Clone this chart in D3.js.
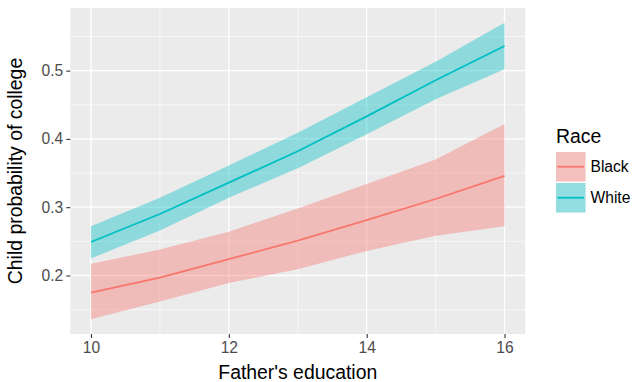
<!DOCTYPE html>
<html>
<head>
<meta charset="utf-8">
<script src="https://cdn.jsdelivr.net/npm/d3@7"></script>
<style>
  html, body { margin: 0; padding: 0; background: #ffffff; }
  svg { display: block; font-family: "Liberation Sans", Arial, Helvetica, sans-serif; }
</style>
</head>
<body>
<svg id="chart" width="634" height="382"></svg>
<script>
// Father's years of education
const fatherEducation = [10, 11, 12, 13, 14, 15, 16];

// Predicted probability of college and its confidence band, by race
const blackFit   = [0.175, 0.197, 0.224, 0.251, 0.281, 0.312, 0.346];
const blackLower = [0.136, 0.162, 0.189, 0.209, 0.236, 0.258, 0.272];
const blackUpper = [0.217, 0.238, 0.264, 0.298, 0.334, 0.370, 0.422];

const whiteFit   = [0.249, 0.290, 0.336, 0.382, 0.433, 0.486, 0.536];
const whiteLower = [0.225, 0.266, 0.314, 0.357, 0.407, 0.458, 0.502];
const whiteUpper = [0.272, 0.314, 0.361, 0.409, 0.461, 0.513, 0.570];

const raceNames  = ["Black", "White"];
const raceColors = ["#F8766D", "#00BFC4"];

const xTicks = [10, 12, 14, 16];
const xMinor = [11, 13, 15];
const yTicks = [0.2, 0.3, 0.4, 0.5];
const yMinor = [0.15, 0.25, 0.35, 0.45, 0.55];

const series = [
  { name: raceNames[0], color: raceColors[0], fit: blackFit, lower: blackLower, upper: blackUpper },
  { name: raceNames[1], color: raceColors[1], fit: whiteFit, lower: whiteLower, upper: whiteUpper }
];

const svg = d3.select("#chart");
const panel = { left: 70.3, right: 525.2, top: 8, bottom: 334 };

// ggplot-style 5% expansion around the data range
const allVals = blackLower.concat(blackUpper, whiteLower, whiteUpper);
const yMin = d3.min(allVals), yMax = d3.max(allVals);
const yPad = (yMax - yMin) * 0.05;
const xPad = (d3.max(fatherEducation) - d3.min(fatherEducation)) * 0.05;

const x = d3.scaleLinear()
  .domain([d3.min(fatherEducation) - xPad, d3.max(fatherEducation) + xPad])
  .range([panel.left, panel.right]);
const y = d3.scaleLinear()
  .domain([yMin - yPad, yMax + yPad])
  .range([panel.bottom, panel.top]);

// panel background
svg.append("rect")
  .attr("x", panel.left).attr("y", panel.top)
  .attr("width", panel.right - panel.left)
  .attr("height", panel.bottom - panel.top)
  .attr("fill", "#EBEBEB");

// grid lines
const grid = svg.append("g");
grid.selectAll(".ymin").data(yMinor).join("line")
  .attr("x1", panel.left).attr("x2", panel.right)
  .attr("y1", d => y(d)).attr("y2", d => y(d))
  .attr("stroke", "#ffffff").attr("stroke-width", 0.6);
grid.selectAll(".xmin").data(xMinor).join("line")
  .attr("y1", panel.top).attr("y2", panel.bottom)
  .attr("x1", d => x(d)).attr("x2", d => x(d))
  .attr("stroke", "#ffffff").attr("stroke-width", 0.6);
grid.selectAll(".ymaj").data(yTicks).join("line")
  .attr("x1", panel.left).attr("x2", panel.right)
  .attr("y1", d => y(d)).attr("y2", d => y(d))
  .attr("stroke", "#ffffff").attr("stroke-width", 1.3);
grid.selectAll(".xmaj").data(xTicks).join("line")
  .attr("y1", panel.top).attr("y2", panel.bottom)
  .attr("x1", d => x(d)).attr("x2", d => x(d))
  .attr("stroke", "#ffffff").attr("stroke-width", 1.3);

// ribbons and fitted lines
const area = d3.area()
  .x((d, i) => x(fatherEducation[i]))
  .y0(d => y(d[0]))
  .y1(d => y(d[1]));
const line = d3.line()
  .x((d, i) => x(fatherEducation[i]))
  .y(d => y(d));

series.forEach(s => {
  const band = s.lower.map((lo, i) => [lo, s.upper[i]]);
  svg.append("path")
    .attr("d", area(band))
    .attr("fill", s.color).attr("fill-opacity", 0.4);
});
series.forEach(s => {
  svg.append("path")
    .attr("d", line(s.fit))
    .attr("fill", "none")
    .attr("stroke", s.color).attr("stroke-width", 1.8);
});

// axes
const xAxis = svg.append("g")
  .attr("transform", `translate(0,${panel.bottom})`)
  .call(d3.axisBottom(x).tickValues(xTicks).tickSize(4).tickPadding(4).tickFormat(d3.format("d")));
const yAxis = svg.append("g")
  .attr("transform", `translate(${panel.left},0)`)
  .call(d3.axisLeft(y).tickValues(yTicks).tickSize(4).tickPadding(3).tickFormat(d3.format(".1f")));
[xAxis, yAxis].forEach(a => {
  a.select(".domain").remove();
  a.selectAll(".tick line").attr("stroke", "#333333").attr("stroke-width", 1.1);
  a.selectAll(".tick text")
    .attr("fill", "#4D4D4D")
    .style("font-size", "15.6px")
    .style("font-family", "'Liberation Sans', Arial, sans-serif");
});

// axis titles
svg.append("text")
  .attr("x", (panel.left + panel.right) / 2)
  .attr("y", 378.5)
  .attr("text-anchor", "middle")
  .attr("fill", "#000000")
  .style("font-size", "19.4px")
  .text("Father's education");
svg.append("text")
  .attr("transform", `translate(22,${(panel.top + panel.bottom) / 2}) rotate(-90)`)
  .attr("text-anchor", "middle")
  .attr("fill", "#000000")
  .style("font-size", "19.4px")
  .text("Child probability of college");

// legend
const legend = svg.append("g").attr("transform", "translate(556,0)");
legend.append("text")
  .attr("x", 0).attr("y", 143)
  .attr("fill", "#000000")
  .style("font-size", "19.4px")
  .text("Race");
const keySize = 29.5;
series.forEach((s, i) => {
  const top = 152 + i * (keySize + 1.5);
  legend.append("rect")
    .attr("x", 0).attr("y", top)
    .attr("width", keySize).attr("height", keySize)
    .attr("fill", "#F2F2F2");
  legend.append("rect")
    .attr("x", 0).attr("y", top)
    .attr("width", keySize).attr("height", keySize)
    .attr("fill", s.color).attr("fill-opacity", 0.4);
  legend.append("line")
    .attr("x1", 1.5).attr("x2", keySize - 1.5)
    .attr("y1", top + keySize / 2).attr("y2", top + keySize / 2)
    .attr("stroke", s.color).attr("stroke-width", 1.8);
  legend.append("text")
    .attr("x", keySize + 5).attr("y", top + keySize / 2 + 5.5)
    .attr("fill", "#000000")
    .style("font-size", "15.6px")
    .text(s.name);
});
</script>
</body>
</html>
